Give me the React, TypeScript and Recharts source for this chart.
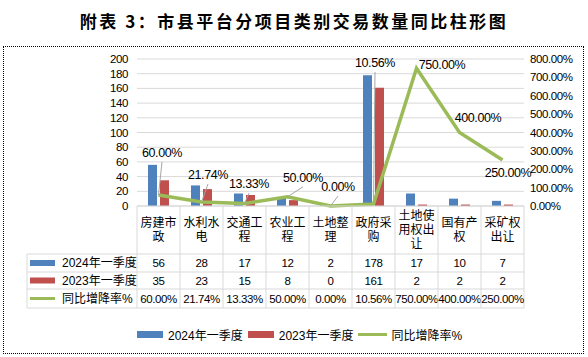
import React from 'react';
import { ComposedChart, Bar, Line, XAxis, YAxis, CartesianGrid, LabelList } from 'recharts';

const categories = ['房建市政', '水利水电', '交通工程', '农业工程', '土地整理', '政府采购', '土地使用权出让', '国有产权', '采矿权出让'];
const q2024 = [56, 28, 17, 12, 2, 178, 17, 10, 7];
const q2023 = [35, 23, 15, 8, 0, 161, 2, 2, 2];
const yoy = [60.0, 21.74, 13.33, 50.0, 0.0, 10.56, 750.0, 400.0, 250.0];
const leftTicks = [0, 20, 40, 60, 80, 100, 120, 140, 160, 180, 200];
const rightTicks = [0, 100, 200, 300, 400, 500, 600, 700, 800];
const seriesNames = ['2024年一季度', '2023年一季度', '同比增降率%'];
const title = '附表 3：市县平台分项目类别交易数量同比柱形图';

const COLORS = ['#4F81BD', '#C0504D', '#9BBB59'];
const GRID = '#D9D9D9';
const FONT = "'Liberation Sans', 'Noto Sans CJK SC', sans-serif";
const FS = 11.5;
const LS = -0.4;

// label placement (style only): offset of label center from point
const labelOffsets: [number, number][] = [
  [3.5, -42], [6.5, -27], [4.5, -19.5], [15.5, -19], [7.5, -19], [1.5, -141], [25.5, -3], [18.5, -14.5], [5.5, 13],
];
const leaderShown = [true, true, true, true, true, true, false, false, false];

const data = categories.map((c, i) => ({ name: c, a: q2024[i], b: q2023[i], r: yoy[i] }));

const fmtPct = (v: number) => v.toFixed(2) + '%';

const COL_W = 43;
const HEADER_H = 48;
const ROW_H = [18, 17, 19];
const ROW_LEFT = 27;
const PLOT_LEFT = 137;

const chunk = (s: string, n: number) => {
  const out: string[] = [];
  const chars = Array.from(s);
  for (let i = 0; i < chars.length; i += n) out.push(chars.slice(i, i + n).join(''));
  return out;
};

const TableTick = (props: any) => {
  const { x, y, payload } = props;
  const i = payload.index;
  const base = y;
  const left = x - COL_W / 2;
  const right = x + COL_W / 2;
  const rowTops = [base + HEADER_H, base + HEADER_H + ROW_H[0], base + HEADER_H + ROW_H[0] + ROW_H[1]];
  const bottom = rowTops[2] + ROW_H[2];
  const lines = chunk(categories[i], 3);
  const headerMid = base + HEADER_H / 2;
  const lh = 14;
  const rowVals = [String(q2024[i]), String(q2023[i]), fmtPct(yoy[i])];
  const els: any[] = [];
  els.push(<line key="vl" x1={left} x2={left} y1={base} y2={bottom} stroke={GRID} />);
  if (i === categories.length - 1) els.push(<line key="vr" x1={right} x2={right} y1={base} y2={bottom} stroke={GRID} />);
  [...rowTops, bottom].forEach((yy, k) => els.push(<line key={'h' + k} x1={left} x2={right} y1={yy} y2={yy} stroke={GRID} />));
  lines.forEach((t, k) => {
    els.push(
      <text key={'t' + k} x={x} y={headerMid + (k - (lines.length - 1) / 2) * lh} textAnchor="middle" dominantBaseline="central" fontSize={12} fill="#000" fontFamily={FONT}>
        {t}
      </text>
    );
  });
  rowVals.forEach((t, k) => {
    els.push(
      <text key={'v' + k} x={x} y={rowTops[k] + ROW_H[k] / 2} textAnchor="middle" dominantBaseline="central" fontSize={FS} letterSpacing={LS} fill="#000" fontFamily={FONT}>
        {t}
      </text>
    );
  });
  if (i === 0) {
    [...rowTops, bottom].forEach((yy, k) => els.push(<line key={'lh' + k} x1={ROW_LEFT} x2={PLOT_LEFT} y1={yy} y2={yy} stroke={GRID} />));
    els.push(<line key="lv" x1={ROW_LEFT} x2={ROW_LEFT} y1={rowTops[0]} y2={bottom} stroke={GRID} />);
    seriesNames.forEach((n, k) => {
      const cy = rowTops[k] + ROW_H[k] / 2;
      els.push(
        k < 2 ? (
          <rect key={'k' + k} x={30} y={cy - 3} width={25} height={6} fill={COLORS[k]} />
        ) : (
          <line key={'k' + k} x1={30} x2={55} y1={cy} y2={cy} stroke={COLORS[k]} strokeWidth={3} />
        )
      );
      els.push(
        <text key={'n' + k} x={62} y={cy} dominantBaseline="central" fontSize={12} fill="#000" fontFamily={FONT}>
          {n}
        </text>
      );
    });
  }
  return <g>{els}</g>;
};

const RateLabel = (props: any) => {
  const { x, y, index, value } = props;
  const [dx, dy] = labelOffsets[index];
  const cx = x + dx;
  const cy = y + dy;
  return (
    <g>
      {leaderShown[index] && <line x1={x} y1={y} x2={cx} y2={cy + 9} stroke="#A6A6A6" strokeWidth={1} />}
      <text x={cx} y={cy} textAnchor="middle" dominantBaseline="central" fontSize={12.5} letterSpacing={LS} fill="#000" fontFamily={FONT}>
        {fmtPct(value)}
      </text>
    </g>
  );
};

export default function App() {
  return (
    <div style={{ position: 'absolute', left: 0, top: 0, width: 588, height: 357, background: '#fff', fontFamily: FONT }}>
      <div
        style={{
          position: 'absolute',
          left: 0,
          top: 9,
          width: 588,
          textAlign: 'center',
          fontSize: 17,
          fontWeight: 'bold',
          letterSpacing: 2.5,
          fontFamily: "'Noto Sans CJK SC', sans-serif",
          lineHeight: '24px',
          color: '#000',
        }}
      >
        {title}
      </div>
      <div style={{ position: 'absolute', left: 3, top: 46, width: 581, height: 308, boxSizing: 'border-box', border: '1px dotted #000' }} />
      <div style={{ position: 'absolute', left: 0, top: 0 }}>
        <ComposedChart width={588} height={357} data={data} margin={{ top: 59, right: 14, left: 77, bottom: 49 }} barGap={3}>
          <CartesianGrid yAxisId="left" vertical={false} stroke={GRID} />
          <XAxis
            dataKey="name"
            height={102}
            interval={0}
            tickLine={false}
            tickSize={0}
            tickMargin={0}
            axisLine={{ stroke: GRID }}
            tick={<TableTick />}
          />
          <YAxis
            yAxisId="left"
            domain={[0, 200]}
            ticks={leftTicks}
            interval={0}
            width={60}
            axisLine={false}
            tickLine={false}
            tickSize={0}
            tickMargin={9}
            tick={{ fontSize: FS, fill: '#000', fontFamily: FONT, letterSpacing: LS }}
          />
          <YAxis
            yAxisId="right"
            orientation="right"
            domain={[0, 800]}
            ticks={rightTicks}
            interval={0}
            width={50}
            axisLine={false}
            tickLine={false}
            tickSize={0}
            tickMargin={6}
            tickFormatter={(v: number) => fmtPct(v)}
            tick={{ fontSize: FS, fill: '#000', fontFamily: FONT, textAnchor: 'start', letterSpacing: LS }}
          />
          <Bar yAxisId="left" dataKey="a" name={seriesNames[0]} fill={COLORS[0]} barSize={9} isAnimationActive={false} />
          <Bar yAxisId="left" dataKey="b" name={seriesNames[1]} fill={COLORS[1]} barSize={9} isAnimationActive={false} />
          <Line
            yAxisId="right"
            dataKey="r"
            name={seriesNames[2]}
            type="linear"
            stroke={COLORS[2]}
            strokeWidth={3.5}
            dot={false}
            activeDot={false}
            isAnimationActive={false}
          >
            <LabelList dataKey="r" content={<RateLabel />} />
          </Line>
        </ComposedChart>
      </div>
      <div style={{ position: 'absolute', left: 137, top: 326, height: 16, display: 'flex', alignItems: 'center', fontSize: 12, color: '#000' }}>
        {seriesNames.map((n, k) => (
          <div key={n} style={{ display: 'flex', alignItems: 'center', marginRight: 5 }}>
            {k < 2 ? (
              <div style={{ width: 26, height: 7, background: COLORS[k], marginRight: 5 }} />
            ) : (
              <div style={{ width: 29, height: 3, background: COLORS[k], marginRight: 4 }} />
            )}
            <span>{n}</span>
          </div>
        ))}
      </div>
    </div>
  );
}
